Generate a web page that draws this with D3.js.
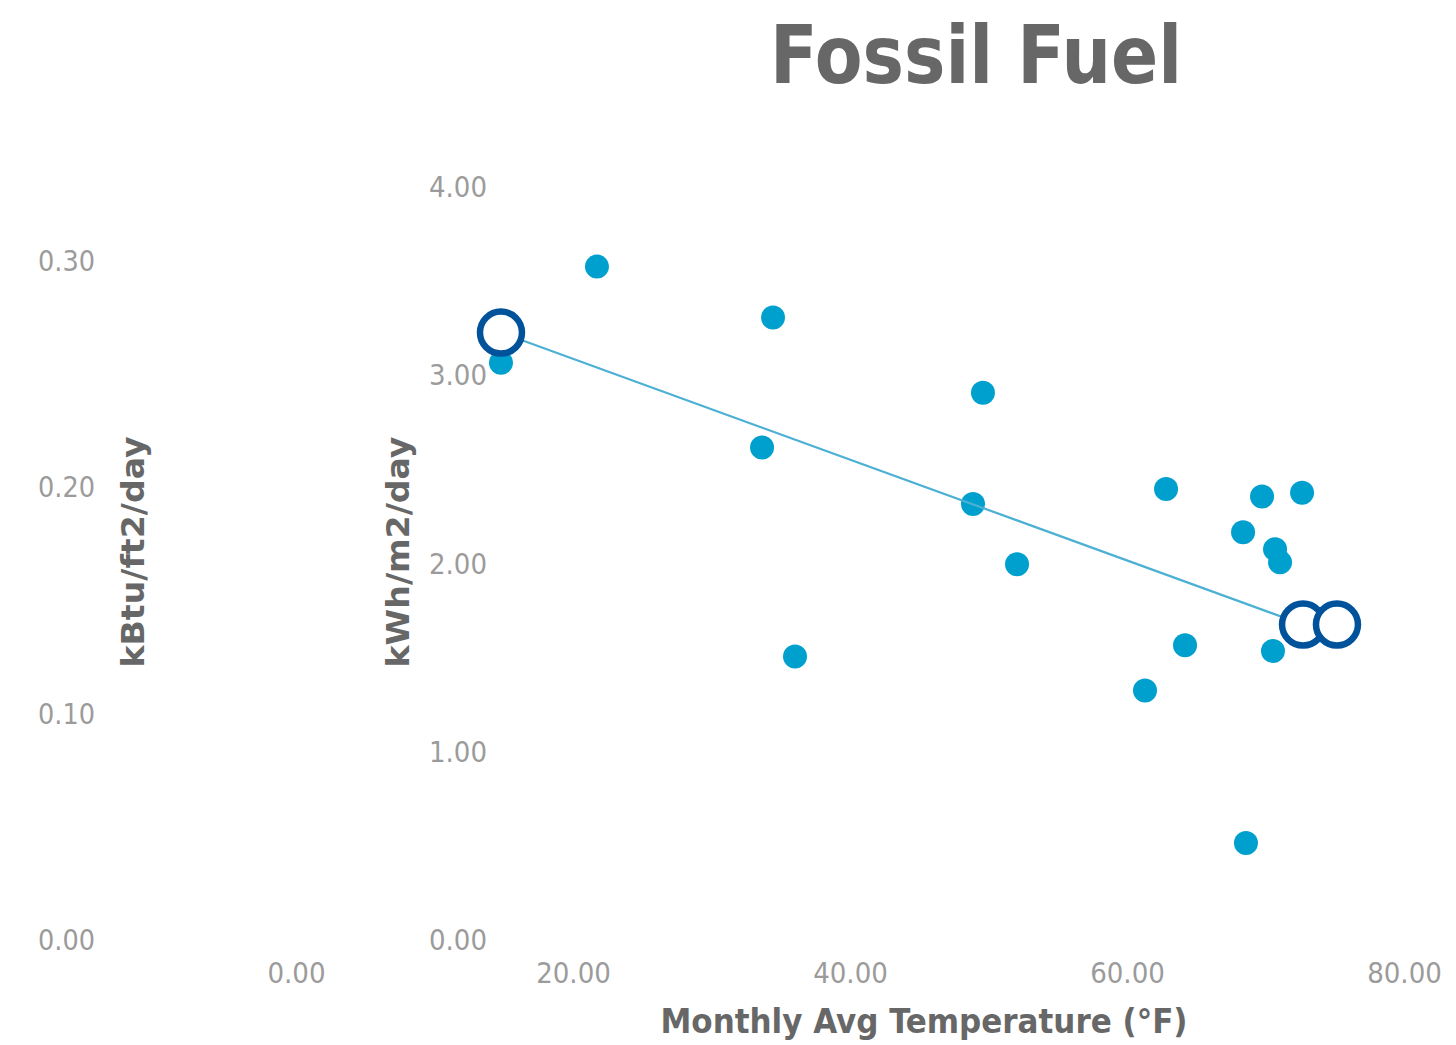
<!DOCTYPE html>
<html>
<head>
<meta charset="utf-8">
<script src="https://cdn.jsdelivr.net/npm/d3@7/dist/d3.min.js"></script>
<style>
  html, body { margin: 0; padding: 0; background: #fff; }
  svg { display: block; }
</style>
</head>
<body>
<script>
// ---- Data ----
const temps  = [14.80, 21.73, 34.44, 33.65, 36.03, 49.60, 48.88, 52.06, 62.82, 61.30, 64.19, 69.75, 72.64, 68.38, 70.69, 71.05, 70.54, 68.59];
const energy = [3.07, 3.58, 3.31, 2.62, 1.51, 2.91, 2.32, 2.00, 2.40, 1.33, 1.57, 2.36, 2.38, 2.17, 2.08, 2.01, 1.54, 0.52];
const trendX = [14.80, 72.71];
const trendY = [3.23, 1.68];
const markerX = [14.80, 72.71, 75.16];
const markerY = [3.23, 1.68, 1.68];
const xTicks = [0, 20, 40, 60, 80];
const yRightTicks = [0, 1, 2, 3, 4];
const yLeftTicks = [0, 0.1, 0.2, 0.3];
const title = "Fossil Fuel";
const xTitle = "Monthly Avg Temperature (°F)";
const yLeftTitle = "kBtu/ft2/day";
const yRightTitle = "kWh/m2/day";

const W = 1456, H = 1045;
const svg = d3.select("body").append("svg").attr("width", W).attr("height", H);

const x = d3.scaleLinear().domain([0, 80]).range([296, 1404]);
const yR = d3.scaleLinear().domain([0, 4]).range([941, 187.5]);
const yL = d3.scaleLinear().domain([0, 0.3]).range([941, 261.5]);

const tickColor = "#9b9b9b";
const titleColor = "#676767";

// X axis
const gx = svg.append("g").attr("transform", "translate(0,962)")
  .call(d3.axisBottom(x).tickValues(xTicks).tickFormat(d3.format(".2f")).tickSize(0).tickPadding(0));
gx.select(".domain").remove();
gx.selectAll("text")
  .attr("fill", tickColor)
  .attr("dy", "0.72em")
  .style("font-family", "'DejaVu Sans Condensed', 'DejaVu Sans', sans-serif")
  .style("font-size", "29px");

// Right-hand (inner) y axis: kWh/m2/day
const gyR = svg.append("g").attr("transform", "translate(487,0)")
  .call(d3.axisLeft(yR).tickValues(yRightTicks).tickFormat(d3.format(".2f")).tickSize(0).tickPadding(0));
gyR.select(".domain").remove();
gyR.selectAll("text")
  .attr("fill", tickColor)
  .attr("textLength", 58).attr("lengthAdjust", "spacingAndGlyphs")
  .style("font-family", "'DejaVu Sans', sans-serif")
  .style("font-size", "28px");

// Left (outer) y axis: kBtu/ft2/day
const gyL = svg.append("g").attr("transform", "translate(95,0)")
  .call(d3.axisLeft(yL).tickValues(yLeftTicks).tickFormat(d3.format(".2f")).tickSize(0).tickPadding(0));
gyL.select(".domain").remove();
gyL.selectAll("text")
  .attr("fill", tickColor)
  .attr("textLength", 57).attr("lengthAdjust", "spacingAndGlyphs")
  .style("font-family", "'DejaVu Sans', sans-serif")
  .style("font-size", "28px");

// Title
svg.append("text")
  .attr("x", 976).attr("y", 83)
  .attr("text-anchor", "middle")
  .attr("fill", titleColor)
  .attr("textLength", 412).attr("lengthAdjust", "spacingAndGlyphs")
  .style("font-family", "'DejaVu Sans', sans-serif")
  .style("font-weight", "bold")
  .style("font-size", "80px")
  .text(title);

// X axis title
svg.append("text")
  .attr("x", 924).attr("y", 1033)
  .attr("text-anchor", "middle")
  .attr("fill", titleColor)
  .attr("textLength", 527).attr("lengthAdjust", "spacingAndGlyphs")
  .style("font-family", "'DejaVu Sans Condensed', 'DejaVu Sans', sans-serif")
  .style("font-weight", "bold")
  .style("font-size", "34px")
  .text(xTitle);

// Y axis titles
function yTitle(txt, bx) {
  svg.append("text")
    .attr("transform", `translate(${bx},552) rotate(-90)`)
    .attr("text-anchor", "middle")
    .attr("fill", titleColor)
    .attr("textLength", 231).attr("lengthAdjust", "spacingAndGlyphs")
    .style("font-family", "'DejaVu Sans Condensed', 'DejaVu Sans', sans-serif")
    .style("font-weight", "bold")
    .style("font-size", "32px")
    .text(txt);
}
yTitle(yLeftTitle, 144);
yTitle(yRightTitle, 409);

// Scatter points
const pts = temps.map((t, i) => ({ t, v: energy[i] }));
svg.append("g").selectAll("circle").data(pts).join("circle")
  .attr("cx", d => x(d.t)).attr("cy", d => yR(d.v))
  .attr("r", 12)
  .attr("fill", "#00a0ce");

// Trend line
const trend = trendX.map((t, i) => ({ t, v: trendY[i] }));
svg.append("path").datum(trend)
  .attr("d", d3.line().x(d => x(d.t)).y(d => yR(d.v)))
  .attr("fill", "none")
  .attr("stroke", "#4bb0d4")
  .attr("stroke-width", 2.2);

// Open circle markers
const marks = markerX.map((t, i) => ({ t, v: markerY[i] }));
svg.append("g").selectAll("circle").data(marks).join("circle")
  .attr("cx", d => x(d.t)).attr("cy", d => yR(d.v))
  .attr("r", 21)
  .attr("fill", "#fff")
  .attr("stroke", "#00529b")
  .attr("stroke-width", 6.5);
</script>
</body>
</html>
